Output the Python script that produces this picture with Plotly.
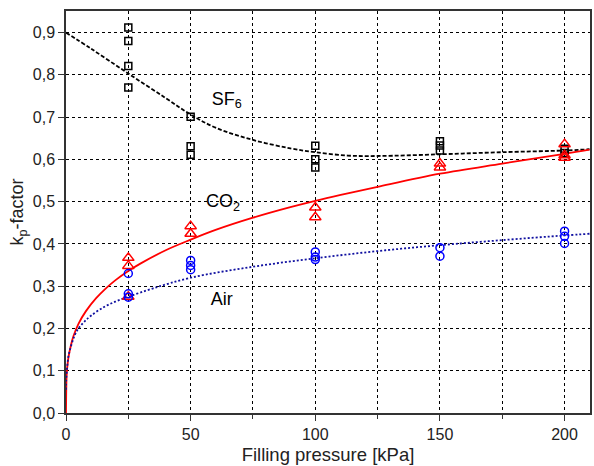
import plotly.graph_objects as go

# Measured data
sf6_x = [25, 25, 25, 25, 50, 50, 50, 100, 100, 100, 150, 150, 150, 200, 200]
sf6_y = [0.912, 0.880, 0.821, 0.770, 0.701, 0.631, 0.611, 0.632, 0.600, 0.581, 0.643, 0.633, 0.621, 0.625, 0.615]

co2_x = [25, 25, 25, 50, 50, 100, 100, 150, 150, 200, 200, 200]
co2_y = [0.367, 0.348, 0.275, 0.442, 0.424, 0.486, 0.463, 0.590, 0.581, 0.636, 0.610, 0.604]

air_x = [25, 25, 25, 50, 50, 50, 100, 100, 100, 150, 150, 200, 200, 200]
air_y = [0.330, 0.282, 0.274, 0.361, 0.349, 0.339, 0.381, 0.369, 0.363, 0.391, 0.371, 0.430, 0.418, 0.401]

# Fit curves
sf6_fit_x = [0, 10, 25, 40, 50, 60, 75, 90, 100, 113, 125, 150, 175, 200, 210]
sf6_fit_y = [0.900, 0.862, 0.803, 0.745, 0.706, 0.675, 0.646, 0.626, 0.617, 0.609, 0.608, 0.612, 0.617, 0.621, 0.624]

co2_fit_x = [0, 0.25, 0.5, 1, 2, 3, 5, 8, 12, 16, 20, 25, 30, 40, 50, 60, 75, 90, 100, 125, 150, 175, 200, 210]
co2_fit_y = [0.0, 0.088, 0.108, 0.132, 0.161, 0.182, 0.211, 0.241, 0.271, 0.295, 0.315, 0.336, 0.354, 0.385,
             0.410, 0.433, 0.462, 0.487, 0.502, 0.535, 0.566, 0.590, 0.613, 0.623]

air_fit_x = [0, 0.1, 0.5, 1, 2, 3.5, 5, 7.5, 10, 15, 20, 25, 35, 50, 75, 100, 125, 150, 175, 200, 210]
air_fit_y = [0.055, 0.08, 0.11, 0.135, 0.158, 0.184, 0.200, 0.217, 0.230, 0.250, 0.264, 0.275, 0.295, 0.320,
             0.346, 0.366, 0.383, 0.397, 0.409, 0.420, 0.424]

labels = ["SF<sub>6</sub>", "CO<sub>2</sub>", "Air"]
label_x = [64.5, 63, 62.5]
label_y = [0.74, 0.498, 0.267]

FONT = "Liberation Sans, Arial"

fig = go.Figure()
fig.add_trace(go.Scatter(x=sf6_fit_x, y=sf6_fit_y, mode="lines",
                         line=dict(color="black", width=1.8, dash="4px,2px", shape="spline"), showlegend=False))
fig.add_trace(go.Scatter(x=co2_fit_x, y=co2_fit_y, mode="lines",
                         line=dict(color="#ff0000", width=1.8, shape="spline"), showlegend=False))
fig.add_trace(go.Scatter(x=air_fit_x, y=air_fit_y, mode="lines",
                         line=dict(color="#1010a0", width=1.8, dash="2px,2px", shape="spline"), showlegend=False))

fig.add_trace(go.Scatter(x=sf6_x, y=sf6_y, mode="markers",
                         marker=dict(symbol="square-open", size=7, color="black", line=dict(width=1.5, color="black")), showlegend=False))
fig.add_trace(go.Scatter(x=co2_x, y=co2_y, mode="markers",
                         marker=dict(symbol="triangle-up-open", size=10, color="#ff0000", line=dict(width=1.5, color="#ff0000")), showlegend=False))
fig.add_trace(go.Scatter(x=air_x, y=air_y, mode="markers",
                         marker=dict(symbol="circle-open", size=8, color="#0000ff", line=dict(width=1.5, color="#0000ff")), showlegend=False))

fig.add_trace(go.Scatter(x=label_x, y=label_y, mode="text", text=labels,
                         textfont=dict(family=FONT, size=18, color="black"), showlegend=False))

axis_common = dict(showline=True, linecolor="#333333", linewidth=1.5, mirror=True,
                   ticks="outside", ticklen=6, tickcolor="#333333", tickwidth=1.2,
                   showgrid=True, gridcolor="black", gridwidth=1, griddash="dot",
                   zeroline=False,
                   tickfont=dict(family=FONT, size=16, color="#222222"))

fig.update_xaxes(range=[0, 210.2], tick0=0, dtick=50,
                 minor=dict(dtick=25, ticks="outside", ticklen=4, tickcolor="#333333", showgrid=True,
                            gridcolor="black", gridwidth=1, griddash="dot"),
                 title=dict(text="Filling pressure [kPa]", standoff=6,
                            font=dict(family=FONT, size=18.5, color="#222222")),
                 **axis_common)
fig.update_yaxes(range=[0, 0.951], tick0=0, dtick=0.1, tickformat=".1f",
                 title=dict(text="k<sub>p</sub>-factor", standoff=4,
                            font=dict(family=FONT, size=18, color="#222222")),
                 **axis_common)

fig.update_layout(width=594, height=466, margin=dict(l=66, r=2, t=11, b=53),
                  plot_bgcolor="white", paper_bgcolor="white", separators=",.",
                  font=dict(family=FONT))

fig.write_html("out.html")
